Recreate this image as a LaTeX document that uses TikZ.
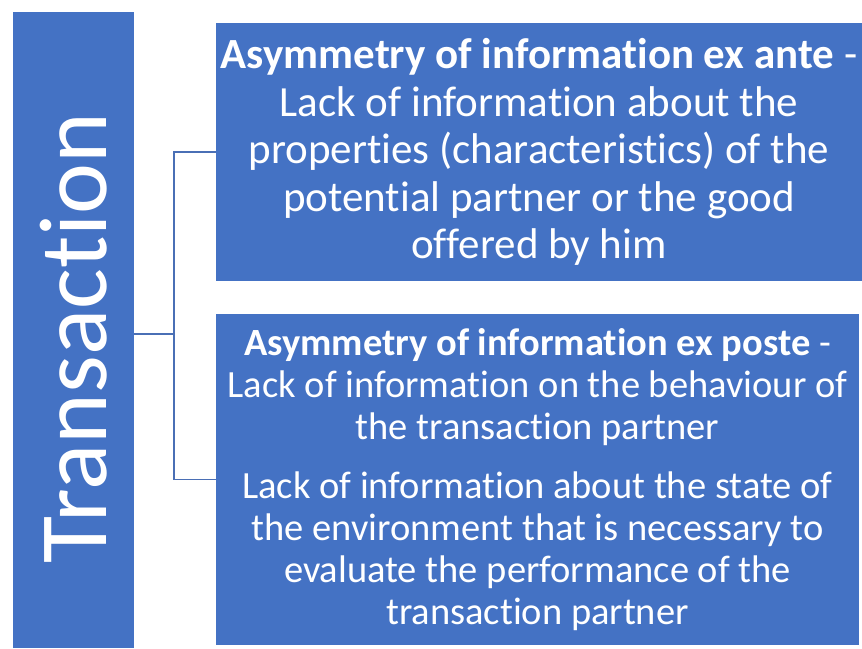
\documentclass[tikz,border=0pt]{standalone}
\usepackage{fontspec}
\setmainfont{Carlito}[Ligatures=NoCommon]
\usepackage{tikz}
\usetikzlibrary{positioning, calc}
\definecolor{boxblue}{HTML}{4472C4}
\definecolor{lineblue}{HTML}{4A6FB5}

\begin{document}
\begin{tikzpicture}[x=1pt, y=-1pt,
    box/.style={fill=boxblue, text=white, inner sep=0pt, align=center},
    link/.style={draw=lineblue, line width=1.5pt}]
    \useasboundingbox (0,0) rectangle (862,648);

    \node[box, rotate=90, minimum width=636pt, minimum height=121pt] (trans) at (73.5,330) {};
    \node[text=white, rotate=90, inner sep=0pt, font=\fontsize{96.5}{110}\selectfont]
        (translabel) at ($(trans.center)+(0,8)$) {Transaction};
    \node[box, minimum width=646pt, minimum height=258pt,
        font=\fontsize{43}{47.5}\selectfont] (ante) at (539,152)
        {\textbf{Asymmetry of information ex ante} -\\
         Lack of information about the\\
         properties (characteristics) of the\\
         potential partner or the good\\
         offered by him};
    \node[box, minimum width=643pt, minimum height=331pt,
        font=\fontsize{38.5}{42}\selectfont] (poste) at (537.5,479.5)
        {\textbf{Asymmetry of information ex poste} -\\
         Lack of information on the behaviour of\\
         the transaction partner\\[17pt]
         Lack of information about the state of\\
         the environment that is necessary to\\
         evaluate the performance of the\\
         transaction partner};

    \coordinate (joint) at (174,334);
    \draw[link] (trans.south |- joint) -- (joint);
    \draw[link] (ante.west) -| (joint) |- (poste.west);
\end{tikzpicture}
\end{document}
